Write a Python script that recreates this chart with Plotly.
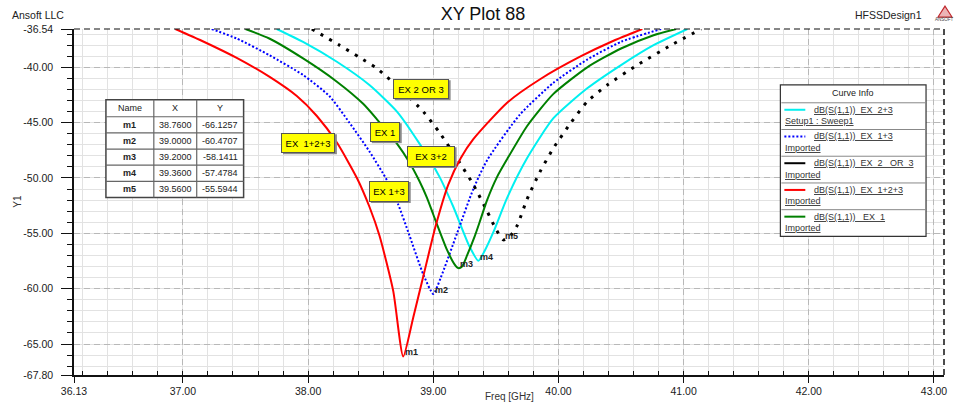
import plotly.graph_objects as go

# ---------------- data ----------------
freq_ex23 = [37.75, 37.96, 38.23, 38.49, 38.71, 38.89, 39.05, 39.16, 39.29, 39.36, 39.41, 39.48, 39.59, 39.75, 39.96, 40.23, 40.50, 40.76, 41.03]
db_ex23 = [-36.54, -37.7, -39.5, -41.6, -44.0, -46.9, -49.9, -52.6, -56.2, -57.48, -56.6, -54.9, -51.8, -48.2, -44.6, -41.9, -39.8, -38.0, -36.54]

freq_ex13 = [37.23, 37.43, 37.69, 37.96, 38.17, 38.33, 38.49, 38.63, 38.72, 38.81, 38.92, 39.00, 39.06, 39.19, 39.32, 39.43, 39.69, 39.96, 40.23, 40.50, 40.82]
db_ex13 = [-36.54, -37.4, -38.9, -40.7, -42.6, -45.0, -47.6, -50.2, -52.4, -55.2, -58.7, -60.4707, -59.0, -55.0, -51.0, -48.4, -44.3, -41.4, -39.3, -37.7, -36.54]

freq_ex2or3 = [38.03, 38.25, 38.41, 38.55, 38.76, 38.92, 39.05, 39.21, 39.32, 39.43, 39.50, 39.56, 39.61, 39.67, 39.75, 39.85, 39.96, 40.10, 40.23, 40.39, 40.63, 40.90, 41.14]
db_ex2or3 = [-36.54, -38.0, -39.1, -40.1, -42.2, -44.0, -45.9, -48.6, -50.6, -53.0, -54.6, -55.5944, -55.3, -54.3, -51.9, -49.5, -47.3, -45.0, -43.1, -41.6, -39.8, -38.0, -36.54]

freq_ex123 = [36.94, 37.15, 37.43, 37.69, 37.91, 38.07, 38.23, 38.39, 38.49, 38.57, 38.68, 38.76, 38.84, 38.92, 39.02, 39.12, 39.22, 39.32, 39.59, 39.85, 40.18, 40.44, 40.67]
db_ex123 = [-36.54, -37.6, -39.15, -40.85, -42.6, -44.4, -46.8, -50.0, -52.6, -55.2, -60.2, -66.1257, -62.6, -58.9, -54.3, -50.6, -48.2, -46.5, -43.2, -41.1, -39.0, -37.6, -36.54]

freq_ex1 = [37.50, 37.69, 37.96, 38.23, 38.44, 38.55, 38.71, 38.81, 38.89, 38.95, 39.00, 39.11, 39.17, 39.20, 39.23, 39.27, 39.33, 39.37, 39.43, 39.51, 39.59, 39.75, 39.96, 40.23, 40.50, 40.76, 40.94]
db_ex1 = [-36.54, -37.4, -39.2, -41.3, -43.3, -44.7, -46.9, -48.6, -50.3, -51.8, -53.3, -56.5, -57.8, -58.1411, -58.0, -57.0, -55.3, -54.0, -52.0, -49.9, -48.3, -45.3, -42.4, -40.0, -38.3, -37.1, -36.54]

marker_names = ["m1", "m2", "m3", "m4", "m5"]
marker_x = [38.7600, 39.0000, 39.2000, 39.3600, 39.5600]
marker_y = [-66.1257, -60.4707, -58.1411, -57.4784, -55.5944]

x_tickvals = [36.13, 37.00, 38.00, 39.00, 40.00, 41.00, 42.00, 43.00]
y_tickvals = [-36.54, -40.00, -45.00, -50.00, -55.00, -60.00, -65.00, -67.80]

curve_labels = ["dB(S(1,1))  EX  2+3", "dB(S(1,1))  EX  1+3", "dB(S(1,1))  EX  2   OR  3",
                "dB(S(1,1))  EX  1+2+3", "dB(S(1,1))   EX  1"]
curve_sources = ["Setup1 : Sweep1", "Imported", "Imported", "Imported", "Imported"]
tag_texts = ["EX 2 OR 3", "EX 1", "EX  1+2+3", "EX 3+2", "EX 1+3"]

# ---------------- layout geometry (pixels) ----------------
W, H = 959, 409
L, R, T, B = 74, 946, 29, 376
FONT = "Liberation Sans, Arial, sans-serif"


def px(x):
    return (x - L) / (R - L)


def py(y):
    return (B - y) / (B - T)


fig = go.Figure()

series = [
    (freq_ex23, db_ex23, dict(color="#00f0f0", width=2)),
    (freq_ex13, db_ex13, dict(color="#0000ff", width=2, dash="2px,2px")),
    (freq_ex2or3, db_ex2or3, dict(color="#000000", width=3, dash="3px,7px")),
    (freq_ex1, db_ex1, dict(color="#008000", width=2)),
    (freq_ex123, db_ex123, dict(color="#ff0000", width=2)),
]
for fx, fy, ln in series:
    ln = dict(ln, shape="spline", smoothing=0.6)
    fig.add_trace(go.Scatter(x=fx, y=fy, mode="lines", line=ln, showlegend=False,
                             hoverinfo="x+y"))

shapes = []
annotations = []

# frame top / right (dashed)
shapes.append(dict(type="line", xref="paper", yref="paper", x0=0, x1=1, y0=1, y1=1,
                   line=dict(color="#111", width=1.2, dash="6px,4px"), layer="above"))
shapes.append(dict(type="line", xref="paper", yref="paper", x0=1, x1=1, y0=0, y1=1,
                   line=dict(color="#111", width=1.5, dash="6px,4px"), layer="above"))

# marker labels
for n, mx, my in zip(marker_names, marker_x, marker_y):
    annotations.append(dict(x=mx, y=my, xref="x", yref="y", text="<b>%s</b>" % n,
                            showarrow=False, xanchor="left", yanchor="middle", yshift=4,
                            font=dict(family=FONT, size=9, color="#222")))

# yellow tags (pixel boxes)
tag_boxes = [(394, 79, 450, 99), (371, 122, 401, 142), (282, 133, 336, 153),
             (408, 146, 456, 167), (370, 181, 410, 202)]
for t, (x0, y0, x1, y1) in zip(tag_texts, tag_boxes):
    shapes.append(dict(type="rect", xref="paper", yref="paper", x0=px(x0 + 1.5), x1=px(x1 + 1.5),
                       y0=py(y0 + 1.5), y1=py(y1 + 1.5), line=dict(width=0),
                       fillcolor="#8a8a8a", layer="above"))
    annotations.append(dict(x=px((x0 + x1) / 2), y=py((y0 + y1) / 2), xref="paper", yref="paper",
                            text=t, showarrow=False, xanchor="center", yanchor="middle",
                            bgcolor="#ffff00", bordercolor="#555", borderwidth=1, borderpad=3,
                            width=x1 - x0 - 8, height=y1 - y0 - 8,
                            font=dict(family=FONT, size=9.5, color="#000")))

# marker table
tx0, tx1 = 106, 244
col_edges = [106, 154, 197, 244]
row_edges = [100, 117, 133.2, 149.4, 165.6, 181.8, 198]
shapes.append(dict(type="rect", xref="paper", yref="paper", x0=px(tx0), x1=px(tx1),
                   y0=py(row_edges[-1]), y1=py(row_edges[0]), fillcolor="white",
                   line=dict(color="#444", width=1.5), layer="above"))
for ce in col_edges[1:-1]:
    shapes.append(dict(type="line", xref="paper", yref="paper", x0=px(ce), x1=px(ce),
                       y0=py(row_edges[-1]), y1=py(row_edges[0]),
                       line=dict(color="#666", width=1.2), layer="above"))
for re_ in row_edges[1:-1]:
    shapes.append(dict(type="line", xref="paper", yref="paper", x0=px(tx0), x1=px(tx1),
                       y0=py(re_), y1=py(re_), line=dict(color="#666", width=1.2), layer="above"))
col_c = [(col_edges[i] + col_edges[i + 1]) / 2 for i in range(3)]
header = ["Name", "X", "Y"]
for c, h in zip(col_c, header):
    annotations.append(dict(x=px(c), y=py((row_edges[0] + row_edges[1]) / 2), xref="paper",
                            yref="paper", text=h, showarrow=False, xanchor="center",
                            yanchor="middle", font=dict(family=FONT, size=9, color="#222")))
for i, (n, mx, my) in enumerate(zip(marker_names, marker_x, marker_y)):
    yc = py((row_edges[i + 1] + row_edges[i + 2]) / 2)
    cells = ["<b>%s</b>" % n, "%.4f" % mx, "%.4f" % my]
    for c, txt in zip(col_c, cells):
        annotations.append(dict(x=px(c), y=yc, xref="paper", yref="paper", text=txt,
                                showarrow=False, xanchor="center", yanchor="middle",
                                font=dict(family=FONT, size=9, color="#222")))

# legend box ("Curve Info")
lx0, lx1, ly0, ly1 = 782, 928, 85, 237
shapes.append(dict(type="rect", xref="paper", yref="paper", x0=px(lx0), x1=px(lx1),
                   y0=py(ly1), y1=py(ly0), fillcolor="white",
                   line=dict(color="#333", width=1.2), layer="above"))
annotations.append(dict(x=px((lx0 + lx1) / 2), y=py(93.5), xref="paper", yref="paper",
                        text="Curve Info", showarrow=False, xanchor="center", yanchor="middle",
                        font=dict(family=FONT, size=9, color="#222")))
leg_styles = [dict(color="#00f0f0", width=2), dict(color="#0000ff", width=2, dash="2px,2px"),
              dict(color="#000000", width=2), dict(color="#ff0000", width=2),
              dict(color="#008000", width=2)]
row_h = 26.8
for i in range(5):
    top = 103 + row_h * i
    shapes.append(dict(type="line", xref="paper", yref="paper", x0=px(lx0 + 1), x1=px(lx1 - 1),
                       y0=py(top), y1=py(top), line=dict(color="#888", width=1), layer="above"))
    shapes.append(dict(type="line", xref="paper", yref="paper", x0=px(786), x1=px(807),
                       y0=py(top + 7), y1=py(top + 7), line=leg_styles[i], layer="above"))
    annotations.append(dict(x=px(814), y=py(top + 7), xref="paper", yref="paper",
                            text="<u>%s</u>" % curve_labels[i], showarrow=False,
                            xanchor="left", yanchor="middle",
                            font=dict(family=FONT, size=9, color="#333")))
    annotations.append(dict(x=px(785), y=py(top + 18.5), xref="paper", yref="paper",
                            text="<u>%s</u>" % curve_sources[i], showarrow=False,
                            xanchor="left", yanchor="middle",
                            font=dict(family=FONT, size=9, color="#333")))

# header texts
annotations.append(dict(x=px(10), y=py(15), xref="paper", yref="paper", text="Ansoft LLC",
                        showarrow=False, xanchor="left", yanchor="middle",
                        font=dict(family=FONT, size=10.5, color="#222")))
annotations.append(dict(x=px(926), y=py(15), xref="paper", yref="paper", text="HFSSDesign1",
                        showarrow=False, xanchor="right", yanchor="middle",
                        font=dict(family=FONT, size=10.5, color="#222")))
annotations.append(dict(x=px(947), y=py(19.5), xref="paper", yref="paper", text="ANSOFT",
                        showarrow=False, xanchor="center", yanchor="middle",
                        font=dict(family=FONT, size=4.5, color="#444")))
shapes.append(dict(type="path", xref="paper", yref="paper",
                   path="M %f,%f L %f,%f L %f,%f Z" % (px(947), py(6), px(940), py(17), px(954), py(17)),
                   line=dict(color="#c0282d", width=1.2), fillcolor="rgba(200,40,45,0.35)",
                   layer="above"))

# axis titles
annotations.append(dict(x=px(17), y=py(202), xref="paper", yref="paper", text="Y1",
                        showarrow=False, textangle=-90, xanchor="center", yanchor="middle",
                        font=dict(family=FONT, size=10, color="#333")))
annotations.append(dict(x=px(511), y=py(398), xref="paper", yref="paper", text="Freq [GHz]",
                        showarrow=False, xanchor="center", yanchor="middle",
                        font=dict(family=FONT, size=10, color="#333")))

fig.update_layout(
    width=W, height=H,
    margin=dict(l=L, r=W - R, t=T, b=H - B, pad=0),
    paper_bgcolor="white", plot_bgcolor="white",
    title=dict(text="XY Plot 88", x=483 / W, y=1 - 14 / H, xref="container", yref="container",
               xanchor="center", yanchor="middle",
               font=dict(family=FONT, size=18, color="#111")),
    shapes=shapes, annotations=annotations,
    showlegend=False,
)
fig.update_xaxes(
    range=[36.13, 43.08], tickmode="array", tickvals=x_tickvals,
    ticktext=["%.2f" % v for v in x_tickvals],
    showline=True, linecolor="#111", linewidth=1.5,
    ticks="outside", ticklen=6, tickcolor="#111", tickwidth=1,
    showgrid=True, gridcolor="#b8b8b8", griddash="6px,4px", gridwidth=1,
    zeroline=False,
    tickfont=dict(family=FONT, size=10.5, color="#1a1a1a"),
    minor=dict(tick0=37, dtick=0.2, ticks="inside", ticklen=4, tickcolor="#111",
               showgrid=True, gridcolor="#e2e2e2", gridwidth=1, griddash="solid"),
)
fig.update_yaxes(
    range=[-67.80, -36.54], tickmode="array", tickvals=y_tickvals,
    ticktext=["%.2f" % v for v in y_tickvals],
    showline=True, linecolor="#111", linewidth=1.5,
    ticks="outside", ticklen=11, tickcolor="#111", tickwidth=1,
    ticklabelstandoff=6,
    showgrid=True, gridcolor="#b8b8b8", griddash="6px,4px", gridwidth=1,
    zeroline=False,
    tickfont=dict(family=FONT, size=10.5, color="#1a1a1a"),
    minor=dict(tick0=0, dtick=1, ticks="outside", ticklen=5, tickcolor="#111",
               showgrid=True, gridcolor="#e2e2e2", gridwidth=1, griddash="solid"),
)

fig.write_html("out.html")
